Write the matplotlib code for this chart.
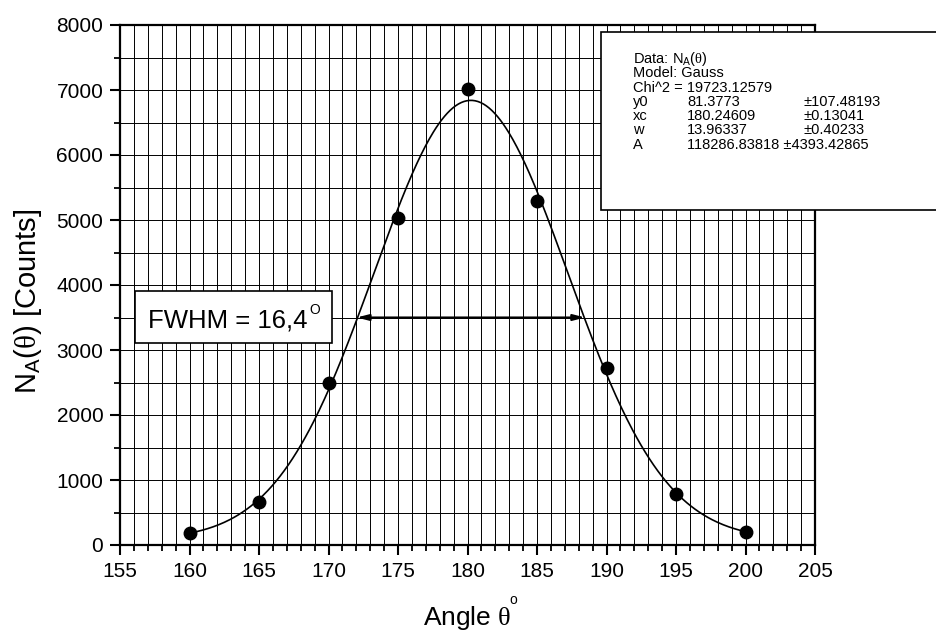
import numpy as np
import matplotlib
matplotlib.use("Agg")
import matplotlib.pyplot as plt
from matplotlib.patches import Rectangle
from matplotlib.ticker import MultipleLocator

plt.rcParams['font.family'] = ['Liberation Sans', 'DejaVu Sans']
plt.rcParams['mathtext.fontset'] = 'custom'
plt.rcParams['mathtext.rm'] = 'Liberation Sans'
plt.rcParams['mathtext.it'] = 'Liberation Serif'
plt.rcParams['mathtext.bf'] = 'Liberation Sans:bold'

# measured data
angle = [160, 165, 170, 175, 180, 185, 190, 195, 200]
counts = [180, 660, 2490, 5030, 7010, 5300, 2720, 785, 200]

# Gauss fit parameters (as printed in the chart)
y0 = 81.3773
xc = 180.24609
w = 13.96337
A = 118286.83818
fwhm_level = 3500

fit_rows = [("y0", "81.3773", "\u00b1107.48193"),
            ("xc", "180.24609", "\u00b10.13041"),
            ("w", "13.96337", "\u00b10.40233"),
            ("A", "118286.83818 \u00b14393.42865", "")]

fig = plt.figure(figsize=(9.36, 6.33), dpi=100)
W, H = 936, 633
ax = fig.add_axes([120 / W, 88 / H, 695 / W, 520 / H])

xs = np.linspace(min(angle), max(angle), 400)
ys = y0 + A / (w * np.sqrt(np.pi / 2)) * np.exp(-2 * ((xs - xc) / w) ** 2)
ax.plot(xs, ys, color='black', lw=1.2, zorder=3)
ax.plot(angle, counts, 'o', color='black', ms=9, zorder=4)

ax.set_xlim(155, 205)
ax.set_ylim(0, 8000)
ax.xaxis.set_major_locator(MultipleLocator(5))
ax.xaxis.set_minor_locator(MultipleLocator(1))
ax.yaxis.set_major_locator(MultipleLocator(1000))
ax.yaxis.set_minor_locator(MultipleLocator(500))
ax.grid(True, which='both', color='black', lw=0.7, zorder=1)
ax.set_axisbelow(True)
for s in ax.spines.values():
    s.set_linewidth(1.6)
ax.tick_params(which='major', direction='out', length=7, width=1.5, labelsize=15, pad=5)
ax.tick_params(which='minor', direction='out', length=4, width=1.3)

# axis labels
fig.text(467.5 / W, 1 - 625 / H, r'Angle $\theta$', fontsize=19,
         ha='center', va='baseline')
fig.text(513 / W, 1 - 600 / H, 'o', fontsize=10, ha='center', va='center')
fig.text(28 / W, 1 - 301 / H, r'N$_{\mathrm{A}}$($\theta$) [Counts]', fontsize=21,
         rotation=90, ha='center', va='center')

# FWHM arrow
half = w * np.sqrt(np.log(2) / 2)
ax.annotate('', xy=(xc - half, fwhm_level), xytext=(xc + half, fwhm_level),
            arrowprops=dict(arrowstyle='<|-|>,head_length=0.7,head_width=0.18',
                            color='black', lw=1.5, shrinkA=0, shrinkB=0),
            zorder=5)

# FWHM box
ax.add_patch(Rectangle((156.08, 3108), 14.15, 800, facecolor='white',
                       edgecolor='black', lw=1.2, zorder=6))
ax.text(157.0, 3343, 'FWHM = 16,4', fontsize=18.5, va='baseline',
        ha='left', zorder=7)
ax.text(168.65, 3554, 'O', fontsize=10, va='baseline', ha='left', zorder=7)

# fit info box (figure coordinates)
fig.patches.append(Rectangle((601 / W, 1 - 210 / H), 0.6, (210 - 32) / H,
                             transform=fig.transFigure, facecolor='white',
                             edgecolor='black', lw=1.2, zorder=10))
fs = 10.5
lh = 14.3
ty = 59
fig.text(633 / W, 1 - ty / H, r'Data: N$_{\mathrm{A}}$($\theta$)', fontsize=fs,
         va='center', zorder=11)
fig.text(633 / W, 1 - (ty + lh) / H, 'Model: Gauss', fontsize=fs, va='center', zorder=11)
fig.text(633 / W, 1 - (ty + 2 * lh) / H, 'Chi^2 = 19723.12579', fontsize=fs,
         va='center', zorder=11)
for i, (n, v, e) in enumerate(fit_rows):
    yy = 1 - (ty + (3 + i) * lh) / H
    fig.text(633 / W, yy, n, fontsize=fs, va='center', zorder=11)
    fig.text(687 / W, yy, v, fontsize=fs, va='center', zorder=11)
    if e:
        fig.text(803 / W, yy, e, fontsize=fs, va='center', zorder=11)

fig.savefig('out.png', dpi=100)
